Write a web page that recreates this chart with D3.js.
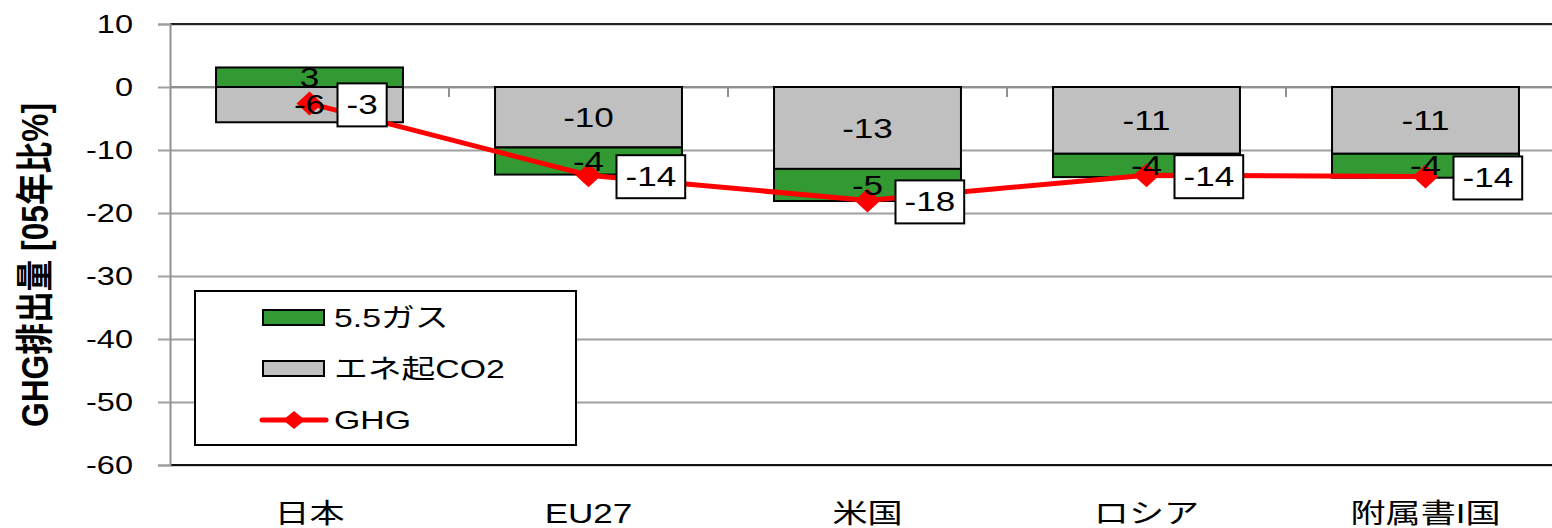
<!DOCTYPE html>
<html>
<head>
<meta charset="utf-8">
<script src="https://cdn.jsdelivr.net/npm/d3@7"></script>
<style>
  body { margin: 0; background: #fff; }
  text { font-family: "Liberation Sans", Arial, "Noto Sans CJK JP", sans-serif; fill: #000; }
</style>
</head>
<body>
<svg id="chart"></svg>
<script>
// data
const categories = ['日本', 'EU27', '米国', 'ロシア', '附属書I国'];
const gasValues = [3.1, -4.3, -5.1, -3.7, -3.8];
const co2Values = [-5.6, -9.6, -13.0, -10.6, -10.6];
const ghgValues = [-2.6, -14.0, -18.0, -14.0, -14.2];
const yTickValues = [10, 0, -10, -20, -30, -40, -50, -60];
const seriesNames = ['5.5ガス', 'エネ起CO2', 'GHG'];

const config = {
    containerWidth: 1552,
    containerHeight: 528,
    margin: {top: 24, left: 170},
    plotWidth: 1395,
    plotHeight: 441,
    stretch: 1.3   // the reference text is drawn wide
};
const colors = {gas: '#339933', co2: '#c0c0c0', ghg: '#ff0000'};

const svg = d3.select('#chart')
    .attr('width', config.containerWidth)
    .attr('height', config.containerHeight);

const chart = svg.append('g')
    .attr('transform', `translate(${config.margin.left},${config.margin.top})`);

const width = config.plotWidth, height = config.plotHeight;

const xScale = d3.scaleBand()
    .domain(categories)
    .range([0, width])
    .paddingInner(0.33)
    .paddingOuter(0.165);

const yScale = d3.scaleLinear()
    .domain([-60, 10])
    .range([height, 0]);

// gridlines
chart.append('g')
    .attr('class', 'grid')
    .call(d3.axisLeft(yScale).tickValues(yTickValues).tickSize(-width).tickFormat(''))
    .call(g => g.select('.domain').remove())
    .call(g => g.selectAll('line').attr('stroke', '#a0a0a0').attr('stroke-width', 2));

// top and bottom frame lines are darker
chart.append('line')
    .attr('x1', 0).attr('x2', width)
    .attr('y1', yScale(10)).attr('y2', yScale(10))
    .attr('stroke', '#222').attr('stroke-width', 2);
chart.append('line')
    .attr('x1', 0).attr('x2', width)
    .attr('y1', yScale(-60)).attr('y2', yScale(-60))
    .attr('stroke', '#111').attr('stroke-width', 2);

// y axis
chart.append('g')
    .attr('class', 'axis y-axis')
    .call(d3.axisLeft(yScale).tickValues(yTickValues).tickSize(12).tickFormat(d => String(d)))
    .call(g => g.select('.domain').attr('stroke', '#909090').attr('stroke-width', 2))
    .call(g => g.selectAll('line').attr('stroke', '#a0a0a0').attr('stroke-width', 2))
    .call(g => g.selectAll('text')
        .attr('x', null)
        .attr('transform', `translate(-37,0) scale(${config.stretch},1)`)
        .style('font-size', '25px')
        .style('font-family', null));

// category axis line at zero, with ticks between categories
chart.append('line')
    .attr('x1', 0).attr('x2', width)
    .attr('y1', yScale(0)).attr('y2', yScale(0))
    .attr('stroke', '#909090').attr('stroke-width', 2);
chart.selectAll('.cat-tick')
    .data(d3.range(1, categories.length))
    .join('line')
    .attr('class', 'cat-tick')
    .attr('x1', i => i * xScale.step()).attr('x2', i => i * xScale.step())
    .attr('y1', yScale(0)).attr('y2', yScale(0) + 10)
    .attr('stroke', '#909090').attr('stroke-width', 2);

// category labels
chart.append('g')
    .attr('class', 'axis x-axis')
    .attr('transform', `translate(0,${height})`)
    .call(d3.axisBottom(xScale).tickSize(0))
    .call(g => g.select('.domain').remove())
    .call(g => g.selectAll('text')
        .attr('y', null).attr('dy', null)
        .attr('transform', `translate(0,58) scale(${config.stretch},1)`)
        .style('font-size', '27px')
        .style('font-family', null));

// stacked bars
const stackData = categories.map((c, i) => ({category: c, co2: co2Values[i], gas: gasValues[i]}));
const series = d3.stack().keys(['co2', 'gas']).offset(d3.stackOffsetDiverging)(stackData);

const layers = chart.selectAll('.layer')
    .data(series)
    .join('g')
    .attr('class', 'layer')
    .attr('fill', d => colors[d.key]);

layers.selectAll('rect')
    .data(d => d)
    .join('rect')
    .attr('x', d => xScale(d.data.category))
    .attr('width', xScale.bandwidth())
    .attr('y', d => yScale(Math.max(d[0], d[1])))
    .attr('height', d => Math.abs(yScale(d[0]) - yScale(d[1])))
    .attr('stroke', '#000')
    .attr('stroke-width', 2);

// GHG line
const cx = c => xScale(c) + xScale.bandwidth() / 2;
const diamond = (w, h) => `M0,${-h}L${w},0L0,${h}L${-w},0Z`;

chart.append('path')
    .datum(categories)
    .attr('fill', 'none')
    .attr('stroke', colors.ghg)
    .attr('stroke-width', 5)
    .attr('d', d3.line().x(c => cx(c)).y((c, i) => yScale(ghgValues[i])));

chart.selectAll('.ghg-point')
    .data(categories)
    .join('path')
    .attr('class', 'ghg-point')
    .attr('transform', (c, i) => `translate(${cx(c)},${yScale(ghgValues[i])})`)
    .attr('d', diamond(13, 12))
    .attr('fill', colors.ghg);

// segment labels, drawn over the line
const segLabels = series.flatMap(s => s.map(p => ({p: p, key: s.key})));
chart.selectAll('.seg-label')
    .data(segLabels)
    .join('text')
    .attr('class', 'seg-label')
    .attr('transform', d => `translate(${cx(d.p.data.category)},${(yScale(d.p[0]) + yScale(d.p[1])) / 2}) scale(${config.stretch},1)`)
    .attr('text-anchor', 'middle')
    .attr('dy', '0.36em')
    .style('font-size', '27px')
    .text(d => Math.round(d.p.data[d.key]));

// GHG labels in boxes
const boxes = chart.selectAll('.ghg-label')
    .data(categories)
    .join('g')
    .attr('class', 'ghg-label')
    .attr('transform', (c, i) => `translate(${cx(c) + 28},${yScale(ghgValues[i]) + 1})`);

boxes.append('rect')
    .attr('fill', '#fff')
    .attr('stroke', '#000')
    .attr('stroke-width', 2);
boxes.append('text')
    .attr('transform', `translate(9,0) scale(${config.stretch},1)`)
    .attr('dy', '0.36em')
    .style('font-size', '27px')
    .text((c, i) => Math.round(ghgValues[i]));
boxes.each(function () {
    const g = d3.select(this);
    const tw = g.select('text').node().getComputedTextLength() * config.stretch;
    g.select('rect').attr('x', 0).attr('y', -21).attr('width', tw + 18).attr('height', 43);
});

// legend
const legend = svg.append('g').attr('transform', 'translate(195,291)');
legend.append('rect')
    .attr('width', 381).attr('height', 154)
    .attr('fill', '#fff').attr('stroke', '#000').attr('stroke-width', 2);

const legendRows = [
    {name: seriesNames[0], type: 'bar', color: colors.gas, y: 27},
    {name: seriesNames[1], type: 'bar', color: colors.co2, y: 78},
    {name: seriesNames[2], type: 'line', color: colors.ghg, y: 129}
];
legendRows.forEach(r => {
    if (r.type === 'bar') {
        legend.append('rect')
            .attr('x', 68).attr('y', r.y - 8).attr('width', 61).attr('height', 15)
            .attr('fill', r.color).attr('stroke', '#000').attr('stroke-width', 2);
    } else {
        legend.append('line')
            .attr('x1', 67).attr('x2', 131).attr('y1', r.y).attr('y2', r.y)
            .attr('stroke', r.color).attr('stroke-width', 5).attr('stroke-linecap', 'round');
        legend.append('path')
            .attr('transform', `translate(99,${r.y})`)
            .attr('d', diamond(11, 9))
            .attr('fill', r.color);
    }
    legend.append('text')
        .attr('transform', `translate(139,${r.y}) scale(${config.stretch},1)`)
        .attr('dy', '0.36em')
        .style('font-size', '26px')
        .text(r.name);
});

// y axis title
svg.append('text')
    .attr('transform', 'translate(34,265) rotate(-90) scale(1,1.4)')
    .attr('text-anchor', 'middle')
    .attr('dy', '0.36em')
    .attr('textLength', 324)
    .attr('lengthAdjust', 'spacingAndGlyphs')
    .style('font-size', '27px')
    .style('font-weight', 'bold')
    .text('GHG排出量 [05年比%]');
</script>
</body>
</html>
